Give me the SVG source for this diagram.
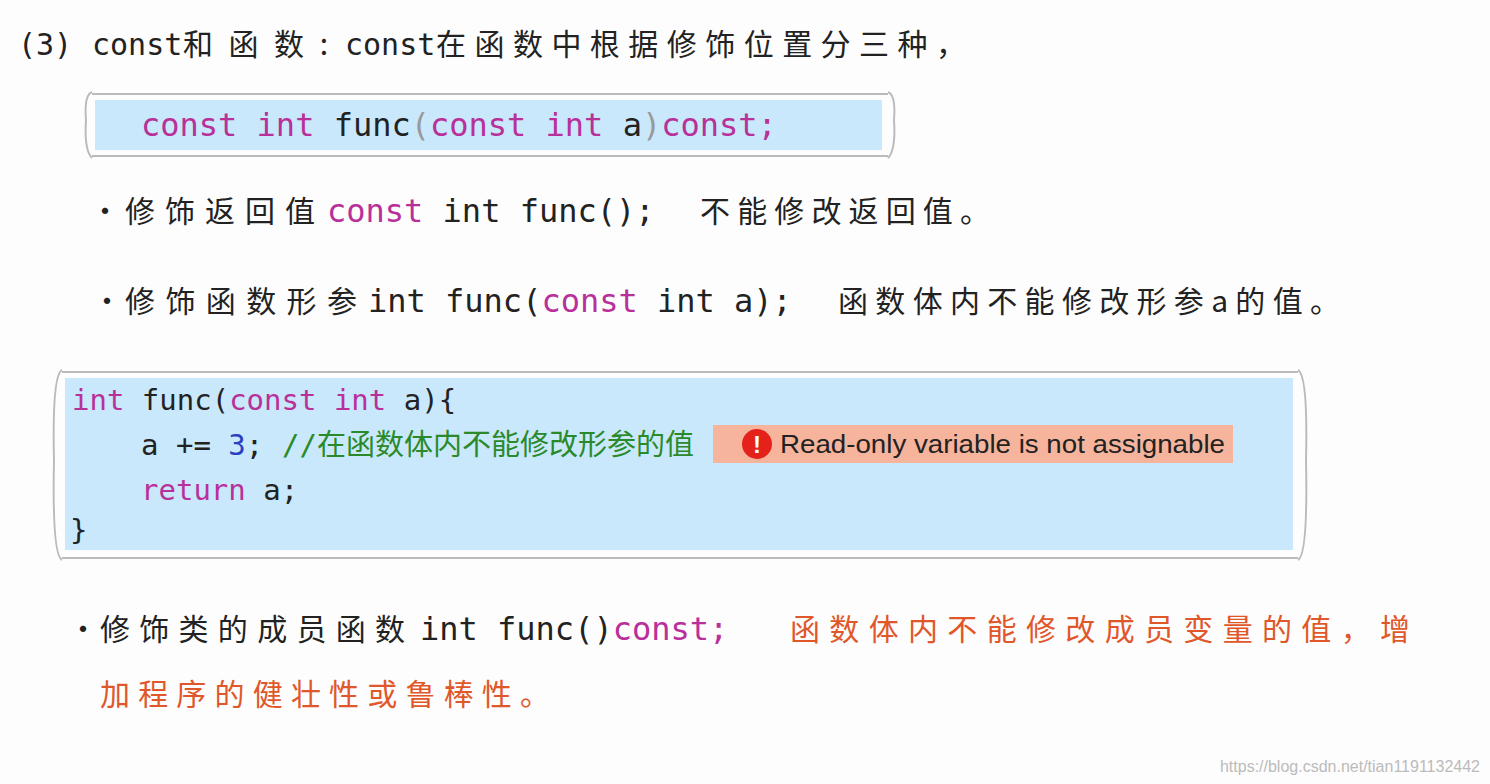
<svg xmlns="http://www.w3.org/2000/svg" width="1490" height="784" viewBox="0 0 1490 784">
<style>
.cn{font-family:"Noto Sans CJK SC","Noto Sans",sans-serif;fill:#222}
.mono{font-family:"DejaVu Sans Mono",monospace;fill:#222}
.kw{fill:#b8309a}
.box{fill:#c9e8fb}
.frame{fill:none;stroke:#bbb;stroke-width:2}
</style>
<rect width="1490" height="784" fill="#fdfdfd"/>
<g id="title">
<text x="18" y="55" class="mono" font-size="30">(3)</text>
<text x="92" y="55" class="mono" font-size="30">const</text>
<text x="183" y="55" class="cn" font-size="30" textLength="145" lengthAdjust="spacing">和函数:</text>
<text x="345" y="55" class="mono" font-size="30">const</text>
<text x="436" y="55" class="cn" font-size="30" textLength="530" lengthAdjust="spacing">在函数中根据修饰位置分三种，</text>
</g>
<g id="code1">
<path class="frame" d="M92 92 Q84 95 86 120 Q84 150 92 158 M888 92 Q896 95 894 120 Q896 150 888 158 M92 94 H888 M92 156 H888"/>
<rect class="box" x="95" y="100" width="787" height="50"/>
<text x="141" y="136" class="mono" font-size="32"><tspan class="kw">const int</tspan> func<tspan fill="#999">(</tspan><tspan class="kw">const int</tspan> a<tspan fill="#999">)</tspan><tspan class="kw">const;</tspan></text>
</g>
<g id="bullet1">
<text x="90" y="222" class="cn" font-size="30">•</text>
<text x="125" y="222" class="cn" font-size="30" textLength="190" lengthAdjust="spacing">修饰返回值</text>
<text x="327" y="222" class="mono" font-size="32"><tspan class="kw">const</tspan> int func();</text>
<text x="700" y="222" class="cn" font-size="30" textLength="290" lengthAdjust="spacing">不能修改返回值。</text>
</g>
<g id="bullet2">
<text x="92" y="312" class="cn" font-size="30">•</text>
<text x="125" y="312" class="cn" font-size="30" textLength="232" lengthAdjust="spacing">修饰函数形参</text>
<text x="368" y="312" class="mono" font-size="32">int func(<tspan class="kw">const</tspan> int a);</text>
<text x="838" y="312" class="cn" font-size="30" textLength="502" lengthAdjust="spacing">函数体内不能修改形参a的值。</text>
</g>
<g id="code2">
<path class="frame" d="M62 370 Q52 375 54 460 Q52 555 62 560 M1298 370 Q1308 375 1306 460 Q1308 555 1298 560 M62 372 H1298 M62 558 H1298"/>
<rect class="box" x="65" y="378" width="1228" height="172"/>
<text x="72" y="410" class="mono" font-size="29"><tspan class="kw">int</tspan> func(<tspan class="kw">const int</tspan> a){</text>
<text x="141" y="455" class="mono" font-size="29">a += <tspan fill="#2a3fc0">3</tspan>; </text>
<text x="282" y="455" class="mono" font-size="29" fill="#2a8a2a" style="fill:#2a8a2a">//<tspan font-family="Noto Sans CJK SC,sans-serif">在函数体内不能修改形参的值</tspan></text>
<text x="141" y="500" class="mono" font-size="29"><tspan class="kw">return</tspan> a;</text>
<text x="70" y="540" class="mono" font-size="29">}</text>
</g>
<g id="error">
<rect x="713" y="425" width="520" height="38" fill="#f7b49c"/>
<circle cx="757" cy="444" r="15" fill="#e4211b"/>
<text x="757" y="453" font-family="Liberation Sans,sans-serif" font-size="24" font-weight="bold" fill="#fff" text-anchor="middle">!</text>
<text x="780" y="453" font-family="Liberation Sans,sans-serif" font-size="26" fill="#222" textLength="445" lengthAdjust="spacingAndGlyphs">Read-only variable is not assignable</text>
</g>
<g id="bullet3">
<text x="68" y="640" class="cn" font-size="30">•</text>
<text x="100" y="640" class="cn" font-size="30" textLength="305" lengthAdjust="spacing">修饰类的成员函数</text>
<text x="420" y="640" class="mono" font-size="32">int func()<tspan class="kw">const;</tspan></text>
<text x="790" y="640" class="cn" font-size="30" fill="#e0582a" style="fill:#e0582a" textLength="620" lengthAdjust="spacing">函数体内不能修改成员变量的值，增</text>
<text x="100" y="705" class="cn" font-size="30" fill="#e0582a" style="fill:#e0582a" textLength="450" lengthAdjust="spacing">加程序的健壮性或鲁棒性。</text>
</g>
<text x="1480" y="772" font-family="Liberation Sans,sans-serif" font-size="16" fill="#bbb" text-anchor="end">https://blog.csdn.net/tian1191132442</text>
</svg>
